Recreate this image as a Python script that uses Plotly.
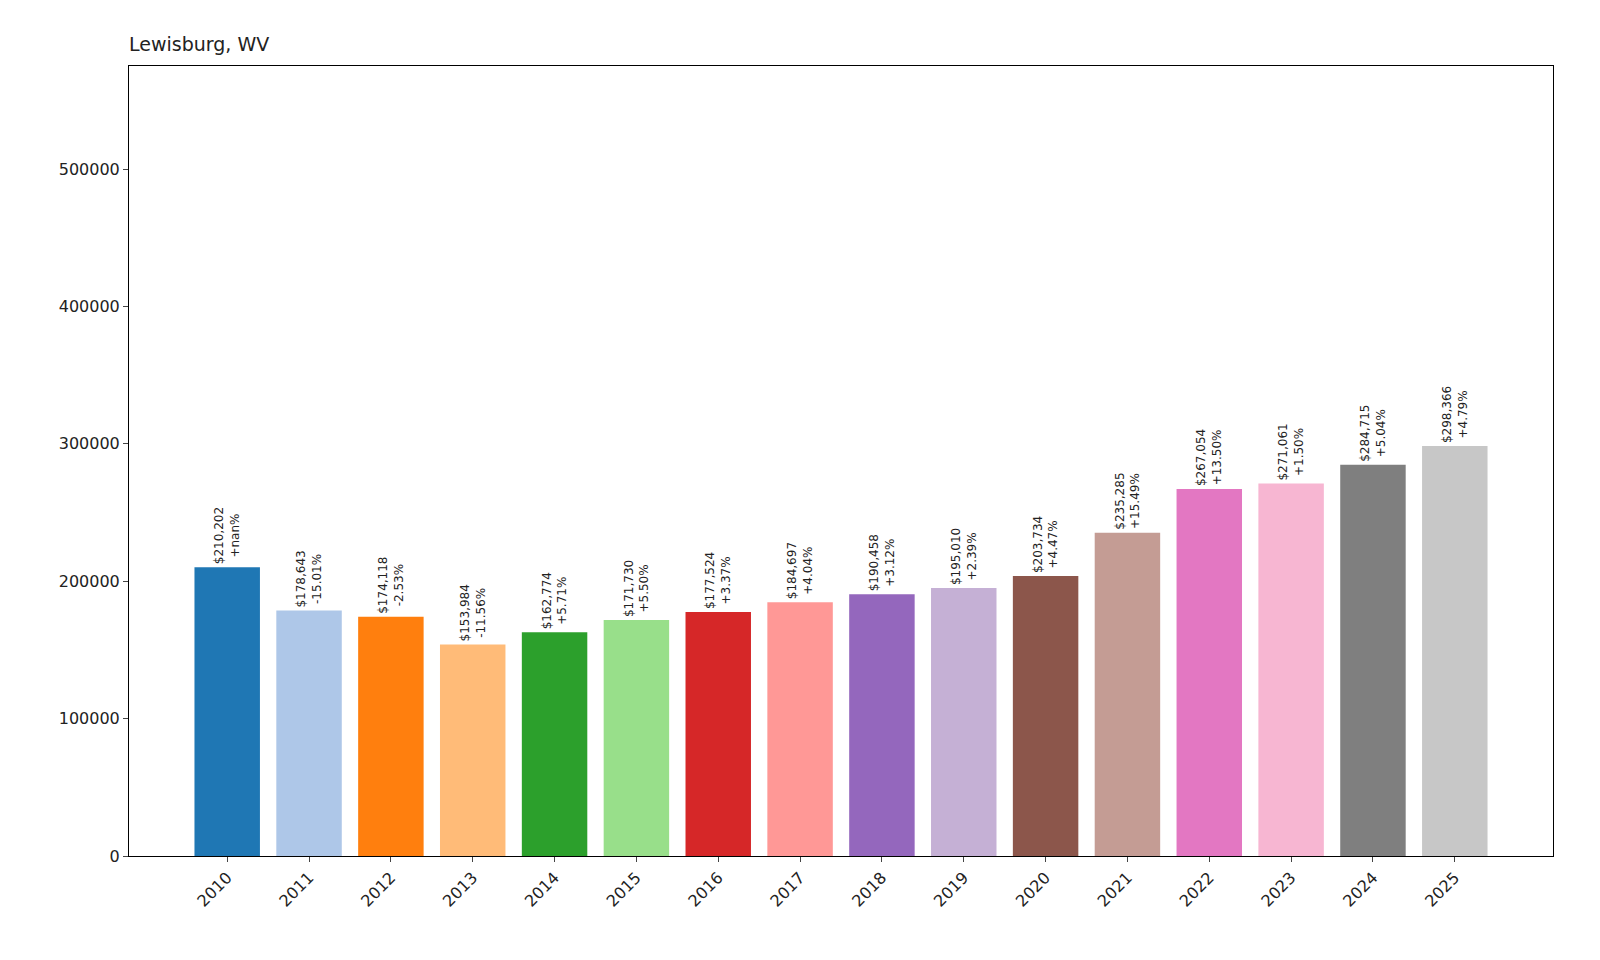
import plotly.graph_objects as go

years = list(range(2010, 2026))
values = [210202, 178643, 174118, 153984, 162774, 171730, 177524, 184697, 190458,
          195010, 203734, 235285, 267054, 271061, 284715, 298366]
changes = ["+nan%", "-15.01%", "-2.53%", "-11.56%", "+5.71%", "+5.50%", "+3.37%", "+4.04%",
           "+3.12%", "+2.39%", "+4.47%", "+15.49%", "+13.50%", "+1.50%", "+5.04%", "+4.79%"]
colors = ["#1f77b4", "#aec7e8", "#ff7f0e", "#ffbb78", "#2ca02c", "#98df8a", "#d62728", "#ff9896",
          "#9467bd", "#c5b0d5", "#8c564b", "#c49c94", "#e377c2", "#f7b6d2", "#7f7f7f", "#c7c7c7"]

labels = [f"${v:,}<br>{c}" for v, c in zip(values, changes)]

fig = go.Figure(go.Bar(
    x=years, y=values, width=0.8, marker_color=colors, marker_line_width=0,
    text=labels, textposition="outside", textangle=-90, cliponaxis=False,
    textfont=dict(size=12, color="#222", family="DejaVu Sans"),
))
fig.update_layout(
    width=1600, height=960, plot_bgcolor="white", paper_bgcolor="white",
    margin=dict(l=121, r=55, t=58, b=112),
    font=dict(family="DejaVu Sans", size=16, color="#222"),
    title=dict(text="Lewisburg, WV", x=121/1600, xanchor="left", y=1-36/960, yanchor="middle",
               font=dict(size=19)),
    showlegend=False, uniformtext=dict(mode=False),
)
fig.update_xaxes(range=[2008.8, 2026.2], tickvals=years, ticktext=[str(y) for y in years],
                 tickangle=-45, showline=True, linecolor="black", mirror=True, ticks="outside",
                 showgrid=False, tickfont=dict(size=16))
fig.update_yaxes(range=[0, 575000], tickvals=[0, 100000, 200000, 300000, 400000, 500000],
                 tickformat="d", showline=True, linecolor="black", mirror=True, ticks="outside",
                 showgrid=False, zeroline=False, tickfont=dict(size=16))
fig.write_html("out.html")
